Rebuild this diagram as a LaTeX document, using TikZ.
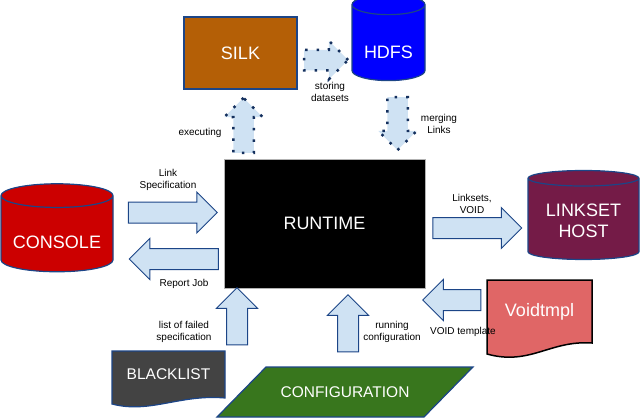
\documentclass[tikz,border=0pt]{standalone}
\usepackage{fontspec}
\setmainfont{Liberation Sans}
\usetikzlibrary{shapes.geometric,shapes.arrows}
\definecolor{navy}{RGB}{28,69,135}
\definecolor{pale}{RGB}{207,226,243}
\definecolor{silkbrown}{RGB}{180,95,6}
\definecolor{consred}{RGB}{204,0,0}
\definecolor{hostwine}{RGB}{116,27,71}
\definecolor{tmplpink}{RGB}{224,102,102}
\definecolor{listgray}{RGB}{67,67,67}
\definecolor{cfggreen}{RGB}{56,118,29}
\begin{document}
\begin{tikzpicture}[
x = 1pt, y = -1pt,
bigtext/.style = {text=white, font=\fontsize{18}{21}\selectfont, align=center},
midtext/.style = {text=white, font=\fontsize{15.5}{18}\selectfont},
store/.style = {cylinder, shape border rotate=90, draw=navy, line width=1.2pt, bigtext},
blockarrow/.style = {single arrow, draw=navy, fill=pale, line width=1pt, inner xsep=0pt, inner ysep=10pt,
  single arrow head extend=10, single arrow tip angle=90},
vblockarrow/.style = {blockarrow, inner xsep=10pt, inner ysep=0pt},
dotarrow/.style = {blockarrow, draw=navy!70!black, line width=2.5pt, dash pattern=on 2.5pt off 9pt,
  inner ysep=9pt, single arrow head extend=9},
vdotarrow/.style = {dotarrow, inner xsep=9pt, inner ysep=0pt},
note/.style = {font=\fontsize{10}{12}\selectfont, align=center}
]
\useasboundingbox (0,0) rectangle (641,418);

% the stores and boxes
\node[draw=navy, line width=1.2pt, fill=silkbrown, minimum width=113, minimum height=72, bigtext] (silk) at (240.5,53) {SILK};
\node[store, fill=blue, minimum width=73, minimum height=86, aspect=0.36, text height=26pt, text depth=0pt] (hdfs) at (388.5,45) {HDFS};
\node[store, fill=consred, minimum width=112, minimum height=88, aspect=0.25, text height=25pt, text depth=0pt] (console) at (57,236) {CONSOLE};
\node[store, fill=hostwine, minimum width=111, minimum height=89, aspect=0.19] (host) at (583.5,220.5) {LINKSET\\HOST};
\node[draw=gray!60, fill=black, minimum width=201, minimum height=129, bigtext] (runtime) at (324.5,223.5) {RUNTIME};

\draw[fill=tmplpink, line width=1.5pt] (487,280) -- (592,280) -- (592,343)
  .. controls (550,340) and (530,366) .. (487,354) -- cycle;
\node[bigtext] (tmpl) at (539.5,312) {Voidtmpl};
\draw[draw=navy, fill=listgray, line width=1.2pt] (112,351) -- (225,351) -- (225,398)
  .. controls (180,394) and (150,414) .. (112,404) -- cycle;
\node[midtext] (blacklist) at (168.5,374) {BLACKLIST};
\draw[draw=navy, fill=cfggreen, line width=1.2pt] (217,417) -- (266,367) -- (473,367) -- (424,417) -- cycle;
\node[midtext] (config) at (345,392) {CONFIGURATION};

% block arrows
\node[blockarrow, minimum height=89] (specarrow) at (167.5,212.5) {};
\node[blockarrow, minimum height=89, shape border rotate=180] (reportarrow) at (179,259) {};
\node[blockarrow, minimum height=89] (setsarrow) at (472,228) {};
\node[blockarrow, minimum height=58, shape border rotate=180] (tmplarrow) at (457,300) {};
\node[vblockarrow, minimum height=57, shape border rotate=90] (failarrow) at (237,321.5) {};
\node[vblockarrow, minimum height=57, shape border rotate=90] (runarrow) at (348,328.5) {};
\node[dotarrow, minimum height=44] (storearrow) at (321,60) {};
\node[vdotarrow, minimum height=55, shape border rotate=90] (execarrow) at (243.5,130.5) {};
\node[vdotarrow, minimum height=53, shape border rotate=270] (mergearrow) at (397.5,118.5) {};

% labels
\node[note] (speclabel) at (168,180) {Link\\Specification};
\node[note] (reportlabel) at (184,284) {Report Job};
\node[note] (execlabel) at (200,133) {executing};
\node[note] (storelabel) at (330,92) {storing\\datasets};
\node[note] (mergelabel) at (439,124) {merging\\Links};
\node[note] (setslabel) at (472,204) {Linksets,\\VOID};
\node[note] (tmpllabel) at (463,332) {VOID template};
\node[note] (faillabel) at (184,332) {list of failed\\specification};
\node[note] (runlabel) at (392,332) {running\\configuration};
\end{tikzpicture}
\end{document}
